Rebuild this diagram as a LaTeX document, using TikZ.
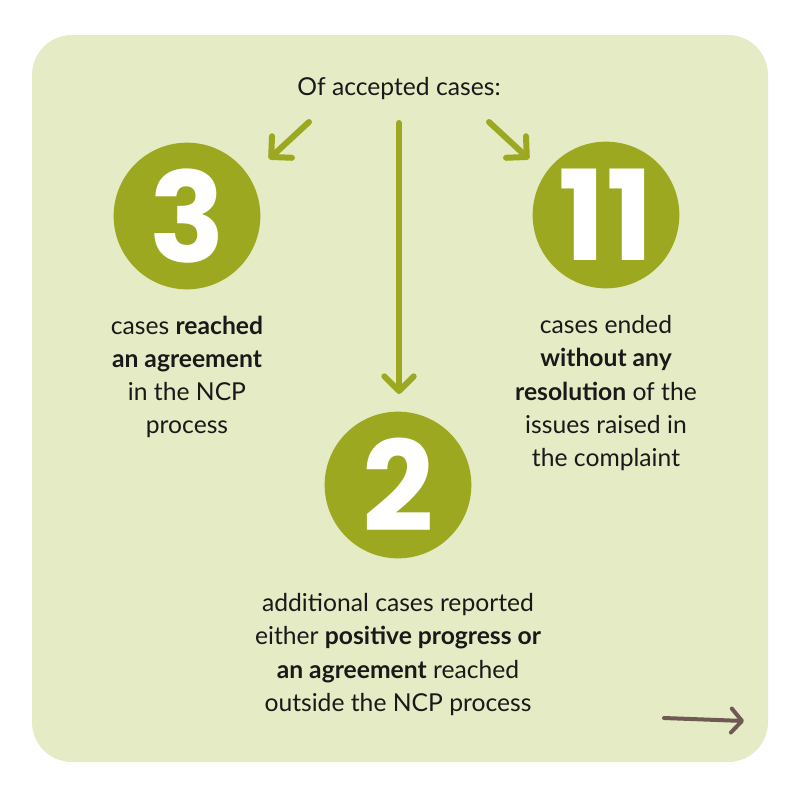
\documentclass[tikz,border=0pt]{standalone}
\usepackage{fontspec}
\setmainfont{Lato}
\newfontfamily\numfont{Poppins}
\usetikzlibrary{arrows.meta}
\definecolor{bgc}{HTML}{E5EBC4}
\definecolor{olive}{HTML}{9CA81F}
\definecolor{brn}{HTML}{6E5A52}
\begin{document}
\begin{tikzpicture}[x=0.75pt,y=-0.75pt,
  num/.style={circle,fill=olive,minimum size=110pt,inner sep=0pt,text=white,font=\numfont\bfseries\fontsize{94}{94}\selectfont},
  txt/.style={align=center,font=\fontsize{18.5}{24.8}\selectfont,text=black!90},
  arr/.style={draw=olive,line width=4.5pt,line cap=round,-{Straight Barb[length=11pt,width=22pt,line width=4.5pt,round]}}]
\useasboundingbox (0,0) rectangle (800,800);
\fill[bgc,rounded corners=30pt] (32,35) rectangle (768,762);
\node[txt] (title) at (399,89) {Of accepted cases:};
\node[num] (c3) at (187,216) {3};
\node[num] (c11) at (606,215) {11};
\node[num] (c2) at (398,485) {2};
\coordinate (la) at (309,122); \coordinate (lb) at (269,159);
\coordinate (ma) at (399,123); \coordinate (mb) at (399,394);
\coordinate (ra) at (489,122); \coordinate (rb) at (529,159);
\draw[arr] (la) -- (lb);
\draw[arr] (ma) -- (mb);
\draw[arr] (ra) -- (rb);
\node[txt,anchor=north] (t3) at (187,311) {cases \textbf{reached}\\\textbf{an agreement}\\in the NCP\\process};
\node[txt,anchor=north] (t11) at (606,311) {cases ended\\\textbf{without any}\\\textbf{resolution} of the\\issues raised in\\the complaint};
\node[txt,anchor=north] (t2) at (398,589) {additional cases reported\\either \textbf{positive progress or}\\\textbf{an agreement} reached\\outside the NCP process};
\coordinate (ba) at (664,718); \coordinate (bb) at (744,721);
\draw[brn,line width=3pt,line cap=round,-{Straight Barb[length=8pt,width=18pt,line width=3pt,round]}] (ba) -- (bb);
\end{tikzpicture}
\end{document}
